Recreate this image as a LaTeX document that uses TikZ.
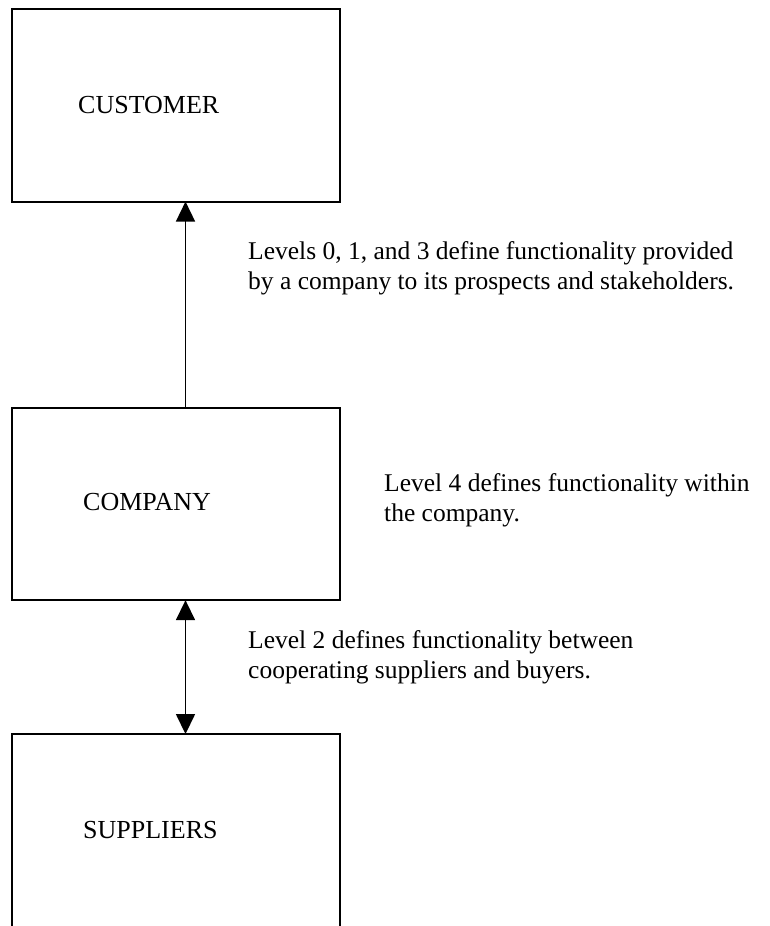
\documentclass[tikz,border=0pt]{standalone}
\usepackage{fontspec}
\setmainfont{Liberation Serif}
\usetikzlibrary{arrows.meta}
\tikzset{
  box/.style={draw, line width=2pt, rectangle, minimum width=327.5pt, minimum height=192.5pt, inner sep=0pt, outer sep=0pt},
  boxlabel/.style={anchor=base west, inner sep=0pt, font=\fontsize{26}{28}\selectfont},
  note/.style={anchor=base west, inner sep=0pt, align=left, font=\fontsize{25.5}{30}\selectfont},
  arr/.style={line width=1.5pt, -{Triangle[width=19pt,length=20pt]}},
  darr/.style={line width=1.5pt, {Triangle[width=19pt,length=20pt]}-{Triangle[width=19pt,length=20pt]}}
}
\begin{document}
\begin{tikzpicture}[x=1pt,y=-1pt]
\useasboundingbox (0,0) rectangle (770,926);
\node[box] (customer) at (175.75,105.3) {};
\node[box] (company) at (175.75,503.9) {};
\node[box] (suppliers) at (175.75,830.3) {};
\node[boxlabel] (customerlbl) at (78,113.3) {CUSTOMER};
\node[boxlabel] (companylbl) at (83,510) {COMPANY};
\node[boxlabel] (supplierslbl) at (83,838) {SUPPLIERS};
\coordinate (ax) at (185.5,0);
\draw[arr] (ax |- company.north) -- (ax |- customer.south);
\draw[darr] (ax |- suppliers.north) -- (ax |- company.south);
\node[note] (note1) at (248,289) {Levels 0, 1, and 3 define functionality provided\\by a company to its prospects and stakeholders.};
\node[note] (note2) at (384,521.5) {Level 4 defines functionality within\\the company.};
\node[note] (note3) at (248,678) {Level 2 defines functionality between\\cooperating suppliers and buyers.};
\end{tikzpicture}
\end{document}
